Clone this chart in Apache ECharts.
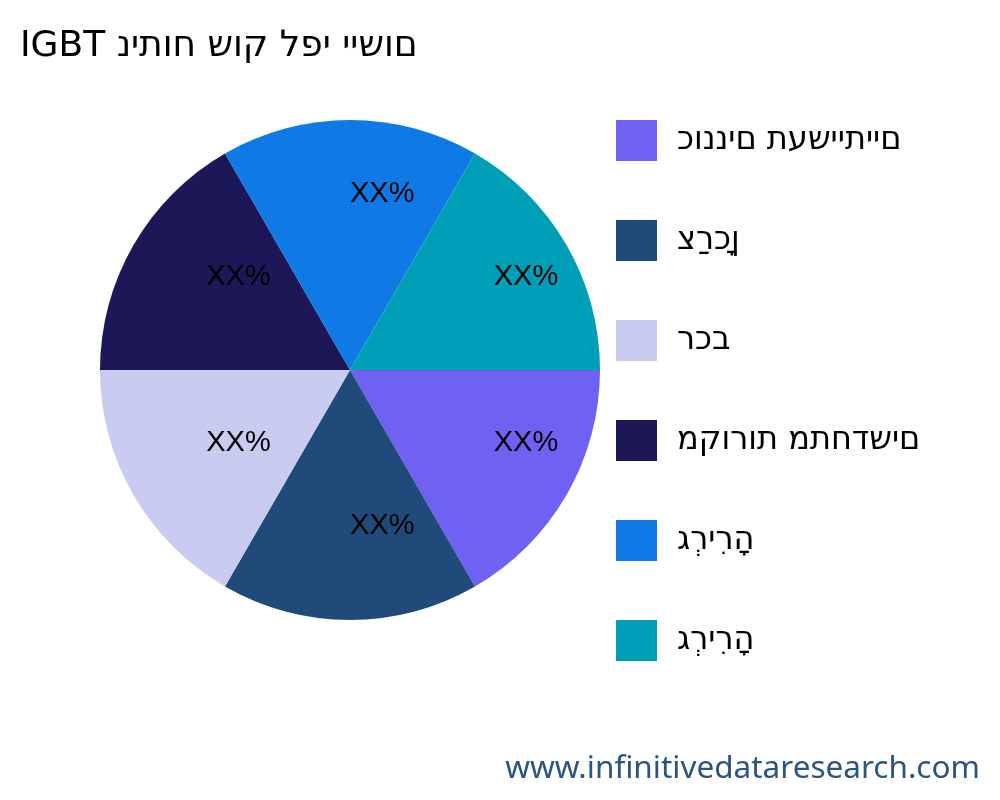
<!DOCTYPE html>
<html>
<head>
<meta charset="utf-8">
<script src="https://cdn.jsdelivr.net/npm/echarts@6/dist/echarts.min.js"></script>
<style>
html,body{margin:0;padding:0;background:#fff;}
#main{width:1000px;height:800px;}
</style>
</head>
<body>
<div id="main"></div>
<script>
// Text as it appears in the reference (glyphs laid out left to right)
const LRO = '\u202D', PDF = '\u202C';
const titleText = 'IGBT ניתוח שוק לפי יישום';
const categories = ['כוננים תעשייתיים', 'צרַכןָ', 'רכב', 'מקורות מתחדשים', 'גרְירִהָ', 'גרְירִהָ'];
const values = [1, 1, 1, 1, 1, 1];
const labelTexts = ['XX%', 'XX%', 'XX%', 'XX%', 'XX%', 'XX%'];
const colors = ['#6F61F2', '#1F4A7A', '#C9CBF0', '#1C1756', '#0F7AE5', '#009FB8'];
const watermark = 'www.infinitivedataresearch.com';

const vis = s => LRO + s + PDF;
// keep legend names unique (two identical category labels)
const names = categories.map((c, i) => vis(c) + '\u200B'.repeat(categories.slice(0, i).filter(x => x === c).length));

const chart = echarts.init(document.getElementById('main'), null, {renderer: 'canvas'});

const pieData = names.map((n, i) => ({name: n, value: values[i], itemStyle: {color: colors[i]}}));
const labelData = names.map((n, i) => ({name: n, value: values[i], label: {formatter: labelTexts[i]}}));

chart.setOption({
  animation: false,
  backgroundColor: '#ffffff',
  title: {
    text: vis(titleText),
    left: 20,
    top: 29,
    padding: 0,
    textStyle: {fontFamily: 'DejaVu Sans', fontSize: 36, fontWeight: 'normal', color: '#000'}
  },
  legend: {
    orient: 'vertical',
    left: 616,
    top: 120,
    padding: 0,
    itemWidth: 41,
    itemHeight: 41,
    itemGap: 59,
    icon: 'rect',
    selectedMode: false,
    data: names,
    textStyle: {fontFamily: 'DejaVu Sans', fontSize: 32, color: '#000', padding: [0, 0, 0, 15]}
  },
  graphic: [{
    type: 'text',
    right: 20,
    top: 753,
    style: {text: watermark, fontFamily: 'Noto Sans', fontSize: 31.5, fill: '#2A5580'}
  }],
  series: [
    {
      type: 'pie',
      center: [350, 370],
      radius: [0, 250],
      startAngle: 0,
      clockwise: true,
      label: {show: false},
      labelLine: {show: false},
      emphasis: {disabled: true},
      data: pieData
    },
    {
      type: 'pie',
      center: [350, 370],
      radius: [0, 326],
      startAngle: 0,
      clockwise: true,
      silent: true,
      itemStyle: {color: 'rgba(0,0,0,0)'},
      label: {
        show: true,
        position: 'inside',
        fontFamily: 'Liberation Sans',
        fontSize: 29,
        color: '#000'
      },
      labelLayout: {align: 'left', verticalAlign: 'bottom', dy: 4.5},
      labelLine: {show: false},
      emphasis: {disabled: true},
      data: labelData
    }
  ]
});
</script>
</body>
</html>
